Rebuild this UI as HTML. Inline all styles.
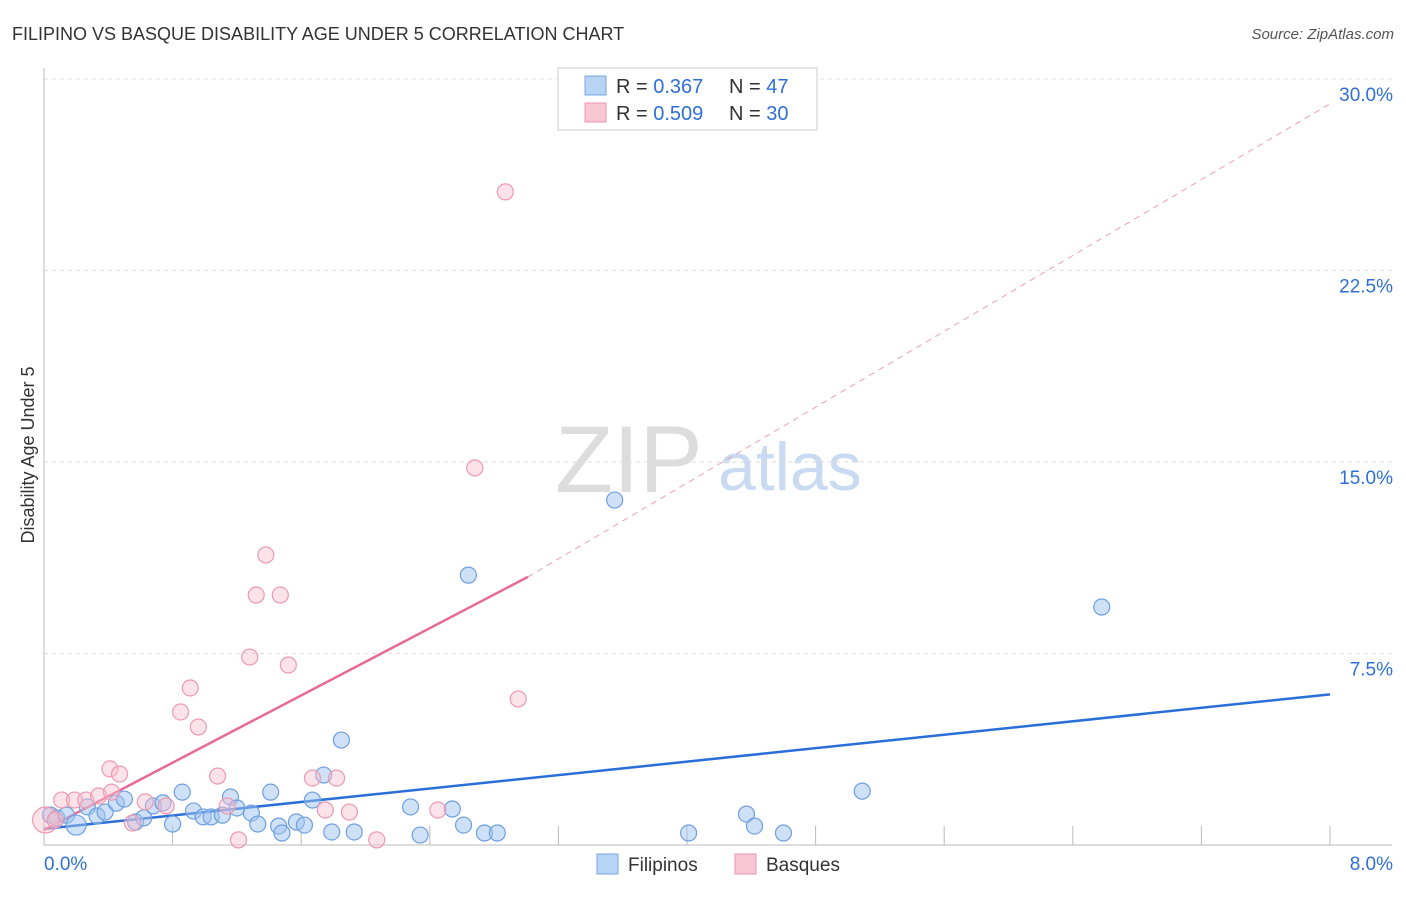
<!DOCTYPE html>
<html><head><meta charset="utf-8"><style>
body{margin:0;background:#fff;font-family:"Liberation Sans",sans-serif;}
svg text{font-family:"Liberation Sans",sans-serif;}
</style></head><body>
<svg id="chart" width="1406" height="892" viewBox="0 0 1406 892">
<text x="12" y="40" font-size="18" fill="#333">FILIPINO VS BASQUE DISABILITY AGE UNDER 5 CORRELATION CHART</text>
<text x="1394" y="39" font-size="15" fill="#555" font-style="italic" text-anchor="end">Source: ZipAtlas.com</text>
<text x="34" y="455" font-size="18" fill="#333" transform="rotate(-90 34 455)" text-anchor="middle">Disability Age Under 5</text>
<text x="555" y="492" font-size="95" fill="#ddd" font-family="Liberation Serif">ZIP</text>
<text x="718" y="490" font-size="68" fill="#c9daf2">atlas</text>
<g id="grid"></g><g id="ticks"></g>
<line x1="44" y1="68" x2="44" y2="845" stroke="#bbb"/>
<line x1="44" y1="845" x2="1392" y2="845" stroke="#bbb"/>
<g id="lines"></g><g id="pts"></g>
<g>
<rect x="558" y="68" width="259" height="62" fill="#fff" stroke="#ccc"/>
<rect x="585" y="76" width="21" height="19" fill="#b8d4f5" stroke="#7aa6e0"/>
<rect x="585" y="103" width="21" height="19" fill="#f9c6d4" stroke="#ec96ad"/>
<text x="616" y="93" font-size="20" fill="#333">R = <tspan fill="#2f6fd6">0.367</tspan><tspan x="729">N = </tspan><tspan fill="#2f6fd6">47</tspan></text>
<text x="616" y="120" font-size="20" fill="#333">R = <tspan fill="#2f6fd6">0.509</tspan><tspan x="729">N = </tspan><tspan fill="#2f6fd6">30</tspan></text>
</g>
<g>
<rect x="597" y="854" width="21" height="20" fill="#b8d4f5" stroke="#7aa6e0"/>
<text x="628" y="871" font-size="19" fill="#333">Filipinos</text>
<rect x="735" y="854" width="21" height="20" fill="#f9c6d4" stroke="#ec96ad"/>
<text x="766" y="871" font-size="19" fill="#333">Basques</text>
</g>
</svg>
<script>
const yTicks=[7.5,15,22.5,30];
const yTickLabels=["7.5%","15.0%","22.5%","30.0%"];
const xTickLabels=["0.0%","8.0%"];
const filipinosX=[0.04,0.08,0.14,0.2,0.27,0.33,0.38,0.45,0.5,0.57,0.62,0.68,0.74,0.8,0.86,0.93,0.99,1.04,1.11,1.16,1.2,1.29,1.33,1.41,1.46,1.48,1.57,1.62,1.67,1.74,1.79,1.85,1.93,2.28,2.34,2.54,2.61,2.64,2.74,2.82,3.55,4.01,4.37,4.42,4.6,5.09,6.58];
const filipinosY=[1.17,1.06,1.17,0.78,1.49,1.14,1.29,1.64,1.8,0.9,1.06,1.53,1.65,0.82,2.07,1.33,1.1,1.1,1.17,1.88,1.45,1.25,0.82,2.07,0.74,0.47,0.9,0.78,1.76,2.74,0.51,4.11,0.51,1.49,0.39,1.41,0.78,10.57,0.47,0.47,13.51,0.47,1.21,0.74,0.47,2.11,9.32];
const basquesX=[0.01,0.07,0.11,0.19,0.26,0.34,0.42,0.41,0.47,0.55,0.63,0.76,0.85,0.91,0.96,1.08,1.14,1.21,1.28,1.32,1.38,1.47,1.52,1.67,1.75,1.82,1.9,2.07,2.45,2.68,2.87,2.95];
const basquesY=[0.98,0.98,1.76,1.76,1.76,1.92,2.07,2.98,2.78,0.86,1.69,1.53,5.21,6.15,4.62,2.7,1.53,0.2,7.36,9.79,11.36,9.79,7.05,2.62,1.37,2.62,1.29,0.2,1.37,14.77,25.58,5.72];
const filipinosTrend=[0.63,5.9];
const basquesTrend=[0.59,10.5,29.03];
const x0=44,x1=1330,y0=845,pxPer=191.5/7.5;
const sx=v=>x0+v/8*(x1-x0), sy=v=>y0-v*pxPer;
const NS="http://www.w3.org/2000/svg";
function mk(tag,attrs,parent){const e=document.createElementNS(NS,tag);for(const k in attrs)e.setAttribute(k,attrs[k]);document.getElementById(parent).appendChild(e);return e;}
yTicks.forEach((t,i)=>{
 const g=mk('line',{x1:x0,x2:1392,y1:sy(t),y2:sy(t),stroke:'#ddd','stroke-dasharray':'4,4'},'grid');
 
 
 const l=mk('text',{x:1393,y:sy(t)+22,'font-size':19,fill:'#2f6fd6','text-anchor':'end'},'grid');
 l.textContent=yTickLabels[i];
 
 
});
for(let i=0;i<=10;i++){
 const t=mk('line',{x1:sx(i*0.8),x2:sx(i*0.8),y1:826,y2:845,stroke:'#bbb'},'ticks');
 
 
}
[[0,44,'start'],[8,1393,'end']].forEach((d,i)=>{
 const l=mk('text',{x:d[1],y:870,'font-size':19,fill:'#2f6fd6','text-anchor':d[2]},'ticks');
 l.textContent=xTickLabels[i];
 
 
});
filipinosX.forEach((v,i)=>{
 const c=mk('circle',{cx:sx(v),cy:sy(filipinosY[i]),r:i===3?10:8,fill:'rgba(160,196,240,0.5)',stroke:'#6e9fe0','stroke-width':1.2},'pts');
 
 
});
basquesX.forEach((v,i)=>{
 const c=mk('circle',{cx:sx(v),cy:sy(basquesY[i]),r:i===0?13:8,fill:'rgba(248,190,206,0.45)',stroke:'#ec9ab0','stroke-width':1.2},'pts');
 
 
});
let l1=mk('line',{x1:sx(0),y1:sy(filipinosTrend[0]),x2:sx(8),y2:sy(filipinosTrend[1]),stroke:'#2a6fd8','stroke-width':2.5},'lines');


let l2=mk('line',{x1:sx(0),y1:sy(basquesTrend[0]),x2:sx(3.01),y2:sy(basquesTrend[1]),stroke:'#e86a96','stroke-width':2.5},'lines');


let l3=mk('line',{x1:sx(3.01),y1:sy(basquesTrend[1]),x2:sx(8),y2:sy(basquesTrend[2]),stroke:'#eaa0b8','stroke-width':1,'stroke-dasharray':'6,5'},'lines');


</script>
</body></html>
